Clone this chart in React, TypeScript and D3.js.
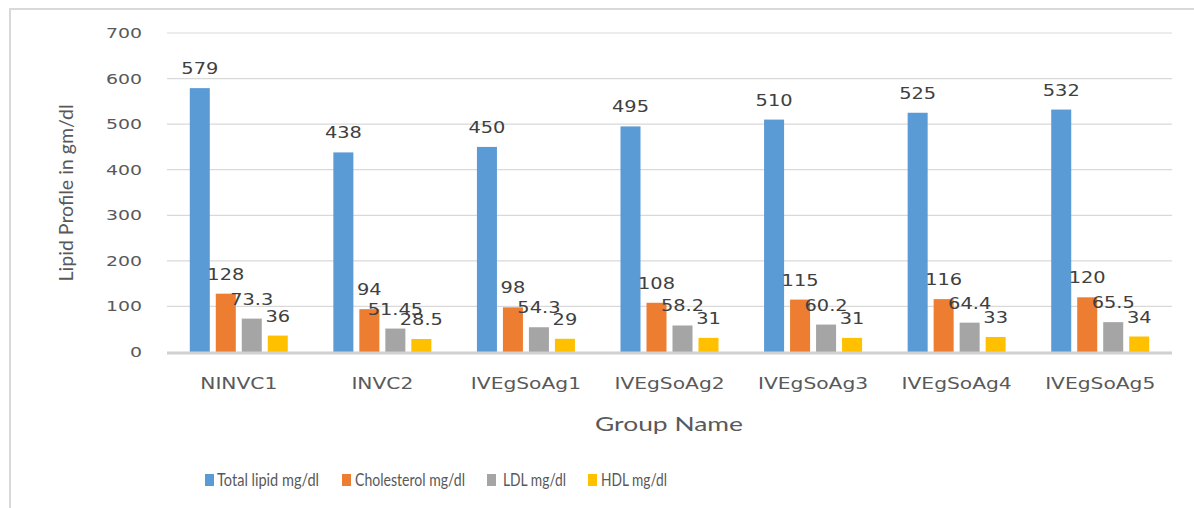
import React from "react";
import * as d3 from "d3";

const categories = ["NINVC1", "INVC2", "IVEgSoAg1", "IVEgSoAg2", "IVEgSoAg3", "IVEgSoAg4", "IVEgSoAg5"];
const seriesNames = ["Total lipid mg/dl", "Cholesterol mg/dl", "LDL mg/dl", "HDL mg/dl"];
const totalLipid = [579, 438, 450, 495, 510, 525, 532];
const cholesterol = [128, 94, 98, 108, 115, 116, 120];
const ldl = [73.3, 51.45, 54.3, 58.2, 60.2, 64.4, 65.5];
const hdl = [36, 28.5, 29, 31, 31, 33, 34];
const yTicks = [0, 100, 200, 300, 400, 500, 600, 700];
const colors = ["#5b9bd5", "#ed7d31", "#a5a5a5", "#ffc000"];

const W = 1194;
const H = 508;
const TXT = "#595959";

export default function App() {
  const series = [totalLipid, cholesterol, ldl, hdl];
  const x0 = d3.scaleBand<string>().domain(categories).range([167, 1172]).paddingInner(0).paddingOuter(0);
  const x1 = d3.scaleBand<string>().domain(seriesNames).range([0, 98]).paddingInner(0.23).paddingOuter(0);
  const y = d3.scaleLinear().domain([0, 700]).range([352, 33]);
  const groupOffset = (c: string) => (x0(c) as number) + x0.bandwidth() / 2 - 49;

  const legendSquareX = [205, 342, 487, 588];
  const legendTextX = [217, 355, 503, 601];
  const legendTextW = [102, 110, 63, 66];

  return (
    <svg width={W} height={H} style={{ position: "absolute", left: 0, top: 0, display: "block", background: "#fff" }}>
      <rect x={0} y={0} width={W} height={H} fill="#fff" />
      {/* outer border */}
      <line x1={9} x2={W} y1={9} y2={9} stroke="#d9d9d9" strokeWidth={2} />
      <line x1={10} x2={10} y1={9} y2={H} stroke="#d9d9d9" strokeWidth={2} />

      {/* gridlines */}
      {yTicks.filter((t) => t > 0).map((t) => (
        <line key={t} x1={167} x2={1172} y1={y(t)} y2={y(t)} stroke="#d9d9d9" strokeWidth={1.2} />
      ))}
      {/* y tick labels */}
      {yTicks.map((t) => (
        <text
          key={"yt" + t}
          transform={`translate(142,${y(t) + 5}) scale(1.35,1)`}
          textAnchor="end"
          fontFamily="DejaVu Sans"
          fontSize={14}
          fill={TXT}
        >
          {t}
        </text>
      ))}

      {/* bars */}
      {categories.map((c, ci) => (
        <g key={c}>
          {series.map((s, si) => {
            const bx = groupOffset(c) + (x1(seriesNames[si]) as number);
            const v = s[ci];
            return (
              <rect key={si} x={bx} y={y(v)} width={x1.bandwidth()} height={y(0) - y(v)} fill={colors[si]} />
            );
          })}
        </g>
      ))}
      {/* x axis line */}
      <line x1={167} x2={1172} y1={y(0) + 1} y2={y(0) + 1} stroke="#d0d0d0" strokeWidth={3} />

      {/* data labels */}
      {categories.map((c, ci) => (
        <g key={"l" + c}>
          {series.map((s, si) => {
            const cx = groupOffset(c) + (x1(seriesNames[si]) as number) + x1.bandwidth() / 2;
            const v = s[ci];
            return (
              <text
                key={si}
                transform={`translate(${cx},${y(v) - 14}) scale(1.25,1)`}
                textAnchor="middle"
                fontFamily="DejaVu Sans"
                fontSize={15.5}
                fill="#404040"
              >
                {String(v)}
              </text>
            );
          })}
        </g>
      ))}

      {/* category labels */}
      {categories.map((c) => (
        <text
          key={"c" + c}
          transform={`translate(${(x0(c) as number) + x0.bandwidth() / 2},389) scale(1.35,1)`}
          textAnchor="middle"
          fontFamily="DejaVu Sans"
          fontSize={15}
          fill={TXT}
        >
          {c}
        </text>
      ))}

      {/* axis titles */}
      <text
        x={669}
        y={431}
        textAnchor="middle"
        fontFamily="Lato"
        fontSize={20}
        fill={TXT}
        textLength={148}
        lengthAdjust="spacingAndGlyphs"
      >
        Group Name
      </text>
      <text
        transform="translate(73,193) rotate(-90)"
        textAnchor="middle"
        fontFamily="Lato"
        fontSize={19}
        fill={TXT}
        textLength={177}
        lengthAdjust="spacingAndGlyphs"
      >
        Lipid Profile in gm/dl
      </text>

      {/* legend */}
      {seriesNames.map((n, i) => (
        <g key={"lg" + n}>
          <rect x={legendSquareX[i]} y={474} width={9} height={12} fill={colors[i]} />
          <text
            x={legendTextX[i]}
            y={486}
            fontFamily="Lato"
            fontSize={18}
            fill={TXT}
            textLength={legendTextW[i]}
            lengthAdjust="spacingAndGlyphs"
          >
            {n}
          </text>
        </g>
      ))}
    </svg>
  );
}
